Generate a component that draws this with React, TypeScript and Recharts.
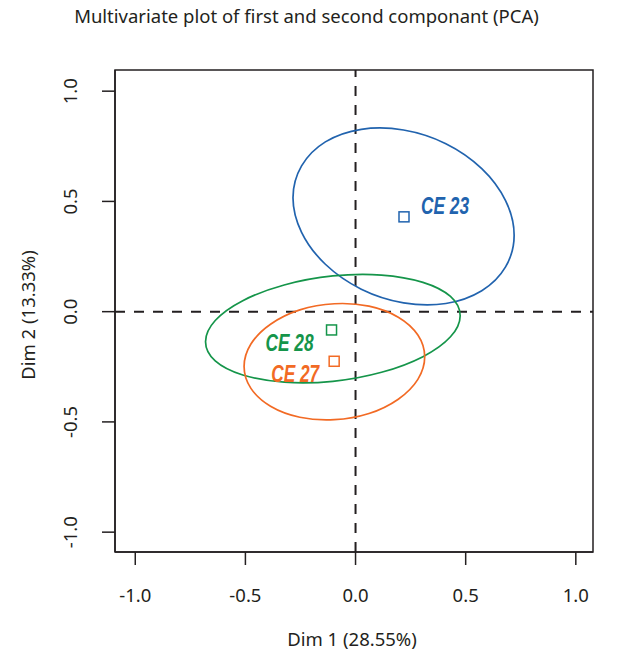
import React from 'react';
import { ScatterChart, Scatter, XAxis, YAxis, ReferenceLine, ReferenceArea } from 'recharts';

// group names and centroids (Dim 1, Dim 2)
const groups = ['CE 23', 'CE 28', 'CE 27'];
const centroidX = [0.22, -0.109, -0.097];
const centroidY = [0.43, -0.083, -0.225];

// confidence ellipse outlines (16 points each, going round)
const ellipse23 = [
  { x: 0.72, y: 0.347 }, { x: 0.681, y: 0.203 }, { x: 0.573, y: 0.095 }, { x: 0.41, y: 0.037 },
  { x: 0.218, y: 0.04 }, { x: 0.026, y: 0.102 }, { x: -0.137, y: 0.215 }, { x: -0.245, y: 0.36 },
  { x: -0.284, y: 0.517 }, { x: -0.245, y: 0.661 }, { x: -0.137, y: 0.77 }, { x: 0.026, y: 0.827 },
  { x: 0.218, y: 0.824 }, { x: 0.41, y: 0.762 }, { x: 0.573, y: 0.649 }, { x: 0.681, y: 0.504 },
];
const ellipse28 = [
  { x: 0.475, y: -0.018 }, { x: 0.431, y: -0.114 }, { x: 0.306, y: -0.204 }, { x: 0.118, y: -0.275 },
  { x: -0.103, y: -0.316 }, { x: -0.324, y: -0.32 }, { x: -0.512, y: -0.287 }, { x: -0.637, y: -0.223 },
  { x: -0.681, y: -0.136 }, { x: -0.637, y: -0.04 }, { x: -0.512, y: 0.05 }, { x: -0.324, y: 0.121 },
  { x: -0.103, y: 0.162 }, { x: 0.118, y: 0.166 }, { x: 0.306, y: 0.133 }, { x: 0.431, y: 0.069 },
];
const ellipse27 = [
  { x: 0.314, y: -0.205 }, { x: 0.283, y: -0.307 }, { x: 0.194, y: -0.397 }, { x: 0.061, y: -0.462 },
  { x: -0.096, y: -0.49 }, { x: -0.253, y: -0.479 }, { x: -0.386, y: -0.429 }, { x: -0.475, y: -0.348 },
  { x: -0.506, y: -0.249 }, { x: -0.475, y: -0.147 }, { x: -0.386, y: -0.057 }, { x: -0.253, y: 0.008 },
  { x: -0.096, y: 0.036 }, { x: 0.061, y: 0.025 }, { x: 0.194, y: -0.025 }, { x: 0.283, y: -0.106 },
];
const ellipses = [ellipse23, ellipse28, ellipse27];

const axisTicks = [-1, -0.5, 0, 0.5, 1];

const colors = ['#2163ae', '#15954a', '#f26a24'];
const ink = '#231f20';
const sans = '"Noto Sans", sans-serif';
const fs = 18.5;
const W = 625;
const H = 658;

// closed Catmull-Rom curve so the ellipse outlines come out smooth
const closedCurve: any = (ctx: any) => {
  let pts: number[][] = [];
  return {
    areaStart() {},
    areaEnd() {},
    lineStart() { pts = []; },
    point(x: number, y: number) { pts.push([x, y]); },
    lineEnd() {
      const n = pts.length;
      if (!n) return;
      const p = (i: number) => pts[(i + n) % n];
      ctx.moveTo(p(0)[0], p(0)[1]);
      for (let i = 0; i < n; i++) {
        const a = p(i - 1), b = p(i), c = p(i + 1), d = p(i + 2);
        ctx.bezierCurveTo(
          b[0] + (c[0] - a[0]) / 6, b[1] + (c[1] - a[1]) / 6,
          c[0] - (d[0] - b[0]) / 6, c[1] - (d[1] - b[1]) / 6,
          c[0], c[1],
        );
      }
      ctx.closePath();
    },
  };
};

const NoDot = () => <g />;

const CentroidMark = (props: any) => {
  const { cx, cy, payload } = props;
  const color = colors[payload.i];
  const right = payload.name === 'CE 23';
  return (
    <g>
      <rect x={cx - 5} y={cy - 5} width={10} height={10} fill="none" stroke={color} strokeWidth={1.5} />
      <text
        x={right ? cx + 17 : cx - (payload.name === 'CE 28' ? 18 : 15)}
        y={right ? cy - 3 : cy + 21}
        textAnchor={right ? 'start' : 'end'}
        textLength={48}
        lengthAdjust="spacingAndGlyphs"
        fill={color}
        fontFamily='"Liberation Sans", sans-serif'
        fontWeight="bold"
        fontStyle="italic"
        fontSize={24}
      >
        {payload.name}
      </text>
    </g>
  );
};

const XTick = (props: any) => {
  const { x, y, payload } = props;
  return (
    <text x={x} y={y + 37} textAnchor="middle" fill={ink} fontFamily={sans} fontSize={fs}>
      {payload.value.toFixed(1)}
    </text>
  );
};

const YTick = (props: any) => {
  const { x, y, payload } = props;
  const tx = x - 25;
  return (
    <text x={tx} y={y} transform={`rotate(-90, ${tx}, ${y})`} textAnchor="middle" fill={ink} fontFamily={sans} fontSize={fs}>
      {payload.value.toFixed(1)}
    </text>
  );
};

const xDomain = [-1.092, 1.078];
const yDomain = [-1.09, 1.096];

export default function App() {
  const centroids = groups.map((name, i) => ({ name, i, x: centroidX[i], y: centroidY[i] }));
  return (
    <div style={{ position: 'relative', width: W, height: H, background: '#fff' }}>
      <style>{'body{margin:0}'}</style>
      <ScatterChart width={W} height={H} margin={{ top: 70, right: 32, left: 0, bottom: 0 }}>
        <XAxis
          type="number"
          dataKey="x"
          domain={xDomain}
          allowDataOverflow
          ticks={axisTicks}
          interval={0}
          height={106}
          tickSize={13}
          tickMargin={0}
          stroke={ink}
          strokeWidth={1.5}
          tick={<XTick />}
        />
        <YAxis
          type="number"
          dataKey="y"
          domain={yDomain}
          allowDataOverflow
          ticks={axisTicks}
          interval={0}
          width={115}
          tickSize={13}
          tickMargin={0}
          stroke={ink}
          strokeWidth={1.5}
          tick={<YTick />}
        />
        <ReferenceArea x1={xDomain[0]} x2={xDomain[1]} y1={yDomain[0]} y2={yDomain[1]} fill="none" stroke={ink} strokeWidth={1.5} />
        <ReferenceLine x={0} stroke={ink} strokeWidth={2} strokeDasharray="10 9" />
        <ReferenceLine y={0} stroke={ink} strokeWidth={2} strokeDasharray="10 9" />
        {ellipses.map((pts, i) => (
          <Scatter
            key={groups[i]}
            data={pts}
            fill={colors[i]}
            line={{ stroke: colors[i], strokeWidth: 1.7 }}
            lineJointType={closedCurve}
            shape={<NoDot />}
            isAnimationActive={false}
          />
        ))}
        <Scatter data={centroids} shape={<CentroidMark />} isAnimationActive={false} />
      </ScatterChart>
      <svg width={W} height={H} style={{ position: 'absolute', left: 0, top: 0, pointerEvents: 'none' }}>
        <text x={306.5} y={23} textAnchor="middle" fill={ink} fontFamily={sans} fontSize={fs}>
          Multivariate plot of first and second componant (PCA)
        </text>
        <text x={352} y={646} textAnchor="middle" fill={ink} fontFamily={sans} fontSize={fs}>
          Dim 1 (28.55%)
        </text>
        <text x={35} y={315} transform="rotate(-90, 35, 315)" textAnchor="middle" fill={ink} fontFamily={sans} fontSize={fs}>
          Dim 2 (13.33%)
        </text>
      </svg>
    </div>
  );
}
